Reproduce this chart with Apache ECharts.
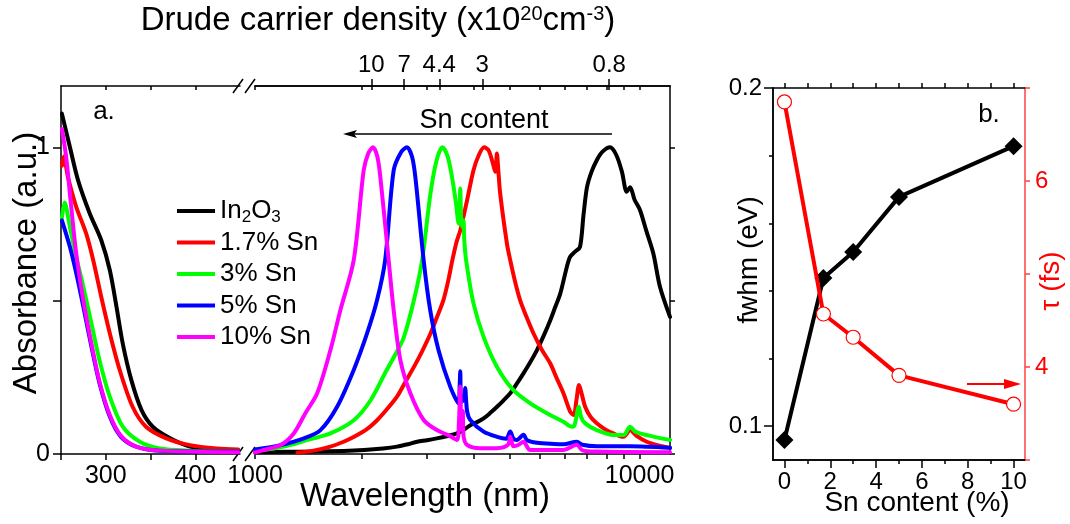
<!DOCTYPE html>
<html><head><meta charset="utf-8">
<script src="https://cdn.jsdelivr.net/npm/echarts@6/dist/echarts.min.js"></script>
<style>html,body{margin:0;padding:0;background:#fff}#c{width:1070px;height:524px}</style>
</head><body><div id="c"></div>
<script>
// ---------- data ----------
const seriesNames = ['In2O3', '1.7% Sn', '3% Sn', '5% Sn', '10% Sn'];
const seriesColors = ['#000000', '#ff0000', '#00ff00', '#0000ff', '#ff00ff'];

// UV region: [wavelength (nm), absorbance]
const uvIn2O3 = [[251,1.11],[260,1.0],[269,0.893],[282,0.785],[295,0.697],[304.5,0.60],[312,0.48],[319,0.36],[328.7,0.24],[340,0.143],[352.5,0.089],[371.5,0.052],[394,0.024],[424,0.011],[448,0.008]];
const uvSn17 = [[251,0.94],[253,0.97],[258,0.90],[267,0.806],[278,0.72],[286,0.632],[295,0.512],[304.5,0.394],[315.6,0.274],[330,0.154],[345,0.089],[367,0.052],[394,0.029],[424,0.018],[448,0.015]];
const uvSn3 = [[251,0.77],[254,0.82],[260,0.74],[267,0.643],[275,0.545],[284,0.426],[293,0.306],[304.5,0.187],[319,0.089],[338,0.040],[360,0.018],[394,0.011],[448,0.008]];
const uvSn5 = [[251,0.762],[260,0.675],[267,0.59],[275,0.48],[284,0.35],[293,0.231],[304.5,0.122],[317,0.056],[334,0.024],[360,0.011],[448,0.008]];
const uvSn10 = [[251,1.06],[255.8,0.968],[261.4,0.806],[267,0.654],[275,0.50],[284,0.36],[293,0.236],[304.5,0.127],[317,0.059],[334,0.024],[360,0.011],[448,0.006]];

// IR region: [wavelength (nm), absorbance]
const irIn2O3 = [[1000,0.006],[1200,0.007],[1420,0.008],[1700,0.01],[1920,0.013],[2150,0.018],[2340,0.024],[2500,0.032],[2640,0.04],[2800,0.045],[2970,0.051],[3150,0.058],[3350,0.067],[3500,0.08],[3630,0.094],[3780,0.104],[3930,0.116],[4100,0.135],[4260,0.154],[4430,0.175],[4610,0.198],[4800,0.23],[4990,0.263],[5200,0.30],[5410,0.339],[5630,0.385],[5860,0.436],[6040,0.48],[6220,0.523],[6470,0.61],[6600,0.643],[6800,0.66],[7000,0.675],[7150,0.78],[7300,0.87],[7500,0.92],[7740,0.958],[8000,0.985],[8380,1.0],[8700,0.975],[9000,0.92],[9260,0.855],[9450,0.87],[9700,0.83],[10030,0.795],[10400,0.73],[10860,0.654],[11300,0.545],[12000,0.447]];
const irSn17 = [[1290,0.004],[1420,0.011],[1570,0.024],[1700,0.04],[1810,0.056],[1950,0.08],[2080,0.111],[2200,0.145],[2340,0.187],[2460,0.235],[2590,0.284],[2720,0.335],[2860,0.393],[2970,0.445],[3090,0.502],[3180,0.565],[3260,0.632],[3340,0.69],[3420,0.73],[3560,0.827],[3700,0.925],[3820,0.975],[3945,1.0],[4050,0.99],[4150,0.95],[4215,0.92],[4257,0.98],[4290,0.93],[4340,0.85],[4520,0.686],[4610,0.632],[4750,0.56],[4890,0.502],[5090,0.445],[5300,0.393],[5570,0.34],[5860,0.295],[6100,0.245],[6340,0.198],[6600,0.138],[6740,0.127],[6860,0.18],[6960,0.225],[7060,0.2],[7220,0.154],[7450,0.122],[7740,0.1],[8100,0.082],[8550,0.067],[9090,0.056],[9450,0.078],[9800,0.06],[10440,0.04],[11200,0.028],[12000,0.02]];
const irSn3 = [[1000,0.012],[1120,0.018],[1240,0.03],[1370,0.046],[1570,0.067],[1810,0.111],[2000,0.176],[2200,0.274],[2330,0.33],[2440,0.382],[2590,0.502],[2720,0.632],[2860,0.85],[2970,0.96],[3074,1.0],[3170,0.97],[3253,0.903],[3330,0.82],[3385,0.751],[3405,0.80],[3418,0.866],[3435,0.77],[3460,0.74],[3485,0.762],[3500,0.70],[3540,0.632],[3700,0.491],[3930,0.382],[4260,0.284],[4700,0.208],[5200,0.165],[5740,0.133],[6340,0.105],[6670,0.089],[6780,0.095],[6950,0.154],[7050,0.12],[7220,0.1],[7740,0.078],[8550,0.062],[9090,0.062],[9450,0.089],[9700,0.075],[10030,0.067],[11000,0.055],[12000,0.046]];
const irSn5 = [[1000,0.015],[1165,0.029],[1340,0.051],[1480,0.078],[1635,0.154],[1806,0.274],[1956,0.393],[2077,0.502],[2180,0.632],[2294,0.925],[2400,0.985],[2484,1.0],[2560,0.97],[2612,0.903],[2745,0.632],[2855,0.469],[3000,0.339],[3220,0.219],[3385,0.165],[3405,0.22],[3418,0.27],[3440,0.17],[3500,0.18],[3520,0.215],[3560,0.14],[3630,0.111],[3930,0.073],[4260,0.056],[4500,0.05],[4610,0.073],[4700,0.05],[4800,0.046],[4990,0.063],[5100,0.045],[5410,0.037],[6000,0.033],[6340,0.032],[6870,0.04],[7100,0.03],[7740,0.025],[9450,0.025],[12000,0.02]];
const irSn10 = [[1000,0.005],[1054,0.013],[1165,0.029],[1261,0.067],[1352,0.133],[1451,0.198],[1571,0.339],[1667,0.469],[1806,0.632],[1917,0.925],[1970,0.98],[2027,1.0],[2080,0.97],[2118,0.903],[2226,0.632],[2294,0.469],[2388,0.306],[2535,0.198],[2745,0.111],[2972,0.078],[3200,0.06],[3350,0.046],[3390,0.1],[3418,0.219],[3440,0.08],[3470,0.14],[3485,0.06],[3560,0.03],[3854,0.019],[4257,0.019],[4550,0.03],[4610,0.056],[4700,0.025],[4850,0.03],[4990,0.04],[5197,0.013],[6337,0.013],[6870,0.03],[7100,0.012],[7742,0.008],[12000,0.006]];

// Panel b
const snContent = [0, 1.7, 3, 5, 10];
const fwhmValues = [0.0959, 0.1438, 0.1515, 0.1678, 0.1828];
const tauValues = [6.85, 4.57, 4.32, 3.91, 3.60];

// tick labels / tick positions
const uvTickMarks = [250, 300, 350, 400];
const uvTickLabels = [300, 400];
const uvTopTicks = [300, 350, 400];
const absTickMarks = [0, 0.5, 1];
const absTickLabels = [0, 1];
const irTickMarks = [1000, 1900, 2800, 3700, 4600, 5500, 6400, 7300, 8200, 9100, 10000];
const irTickLabels = [1000, 10000];
const densityLabels = ['10', '7', '4.4', '3', '0.8'];
const densityWavelengths = [2007, 2444, 3014, 3899, 8339];
const snMajorTicks = [0, 2, 4, 6, 8, 10];
const snMinorTicks = [1, 3, 5, 7, 9];
const snTopTicks = [0, 1, 2, 3, 4, 5, 6, 7, 8, 9, 10];
const fwhmMajorTicks = [0.1, 0.2];
const fwhmMinorTicks = [0.12, 0.14, 0.16, 0.18];
const tauTickMarks = [3, 4, 5, 6, 7];
const tauTickLabels = [4, 6];

// ---------- chart ----------
const FONT = 'Liberation Sans, Arial, sans-serif';
const uvData = [uvIn2O3, uvSn17, uvSn3, uvSn5, uvSn10];
const irData = [irIn2O3, irSn17, irSn3, irSn5, irSn10];

function ax(o) {
  const base = {
    splitLine: { show: false },
    axisLine: { show: true, onZero: false, lineStyle: { color: '#000', width: 1.5 } },
    axisTick: { show: true, lineStyle: { color: '#000', width: 1.5 } },
    axisLabel: { color: '#000', fontSize: 25, fontFamily: FONT },
  };
  const r = Object.assign({}, base, o);
  r.axisLine = Object.assign({}, base.axisLine, o.axisLine || {});
  r.axisTick = Object.assign({}, base.axisTick, o.axisTick || {});
  r.axisLabel = Object.assign({}, base.axisLabel, o.axisLabel || {});
  return r;
}

const xAxis = [
  ax({ gridIndex: 0, type: 'value', position: 'bottom', min: 250, max: 450,
       axisTick: { customValues: uvTickMarks, length: 6 },
       axisLabel: { customValues: uvTickLabels, margin: 10 } }),
  ax({ gridIndex: 0, type: 'value', position: 'top', min: 250, max: 450,
       axisTick: { customValues: uvTopTicks, inside: true, length: 4 },
       axisLabel: { show: false } }),
  ax({ gridIndex: 1, type: 'log', logBase: 10, position: 'bottom', min: 1000, max: 12000,
       axisTick: { customValues: irTickMarks, length: 5 },
       axisLabel: { customValues: irTickLabels, margin: 10, formatter: v => String(Math.round(v)) } }),
  ax({ gridIndex: 1, type: 'log', logBase: 10, position: 'top', min: 1000, max: 12000,
       axisTick: { customValues: densityWavelengths, length: 7 },
       axisLabel: { customValues: densityWavelengths, margin: 9, fontSize: 24,
         formatter: v => {
           let best = 0;
           densityWavelengths.forEach((w, i) => { if (Math.abs(w - v) < Math.abs(densityWavelengths[best] - v)) best = i; });
           return densityLabels[best];
         } } }),
  ax({ gridIndex: 1, type: 'log', logBase: 10, position: 'top', min: 1000, max: 12000,
       axisTick: { customValues: densityWavelengths.concat(irTickMarks), inside: true, length: 4 },
       axisLabel: { show: false } }),
  ax({ gridIndex: 2, type: 'value', position: 'bottom', min: -0.5, max: 10.5,
       axisTick: { customValues: snMajorTicks, length: 8 },
       axisLabel: { customValues: snMajorTicks, margin: 10, fontSize: 24 } }),
  ax({ gridIndex: 2, type: 'value', position: 'bottom', min: -0.5, max: 10.5,
       axisTick: { customValues: snMinorTicks, length: 4 },
       axisLabel: { show: false } }),
  ax({ gridIndex: 2, type: 'value', position: 'top', min: -0.5, max: 10.5,
       axisTick: { customValues: snTopTicks, length: 5 },
       axisLabel: { show: false } }),
];

const yAxis = [
  ax({ gridIndex: 0, type: 'value', position: 'left', min: 0, max: 1.2,
       axisTick: { customValues: absTickMarks, length: 8 },
       axisLabel: { customValues: absTickLabels, margin: 11 } }),
  ax({ gridIndex: 1, type: 'value', position: 'right', min: 0, max: 1.2,
       axisTick: { customValues: absTickMarks, length: 5 },
       axisLabel: { show: false } }),
  ax({ gridIndex: 2, type: 'value', position: 'left', min: 0.09, max: 0.2,
       axisTick: { customValues: fwhmMajorTicks, length: 9 },
       axisLabel: { customValues: fwhmMajorTicks, margin: 11, fontSize: 24, formatter: v => v.toFixed(1) } }),
  ax({ gridIndex: 2, type: 'value', position: 'left', min: 0.09, max: 0.2,
       axisTick: { customValues: fwhmMinorTicks, length: 4 },
       axisLabel: { show: false } }),
  ax({ gridIndex: 2, type: 'value', position: 'right', min: 3, max: 7,
       axisLine: { lineStyle: { color: '#ff4040', width: 1.5 } },
       axisTick: { customValues: tauTickMarks, length: 5, lineStyle: { color: '#ff4040', width: 1.5 } },
       axisLabel: { customValues: tauTickLabels, margin: 10, fontSize: 24, color: '#ff0000' } }),
];

const series = [];
seriesNames.forEach((n, i) => {
  const common = { type: 'line', name: n, symbol: 'none', showSymbol: false, smooth: 0.3,
    lineStyle: { width: 4, color: seriesColors[i], join: 'round', cap: 'round' }, itemStyle: { color: seriesColors[i] },
    z: 2 + i, animation: false, silent: true };
  series.push(Object.assign({}, common, { xAxisIndex: 0, yAxisIndex: 0, data: uvData[i] }));
  series.push(Object.assign({}, common, { xAxisIndex: 2, yAxisIndex: 1, data: irData[i] }));
});
series.push({ type: 'line', name: 'fwhm', xAxisIndex: 5, yAxisIndex: 2,
  data: snContent.map((x, i) => [x, fwhmValues[i]]),
  symbol: 'diamond', symbolSize: 18, itemStyle: { color: '#000' },
  lineStyle: { color: '#000', width: 4 }, z: 5, animation: false, silent: true });
series.push({ type: 'line', name: 'tau', xAxisIndex: 5, yAxisIndex: 4,
  data: snContent.map((x, i) => [x, tauValues[i]]),
  symbol: 'circle', symbolSize: 14, itemStyle: { color: '#fff', borderColor: '#ff0000', borderWidth: 1.2 },
  lineStyle: { color: '#ff0000', width: 4 }, z: 6, animation: false, silent: true });

const txt = (x, y, text, size, extra) => ({
  type: 'text', x: x, y: y, silent: true,
  style: Object.assign({ text: text, fontSize: size, fontFamily: FONT, fill: '#000', align: 'center', verticalAlign: 'middle' }, extra || {})
});

const graphic = [
  txt(378, 21, 'Drude carrier density (x10{sup|20}cm{sup|-3})', 33,
      { rich: { sup: { fontSize: 20, fontFamily: FONT, verticalAlign: 'top', fill: '#000' } } }),
  txt(425, 497, 'Wavelength (nm)', 33),
  Object.assign(txt(0, 0, 'Absorbance (a.u.)', 33), { x: 27, y: 263, rotation: Math.PI / 2 }),
  txt(104, 112, 'a.', 26),
  txt(484, 121, 'Sn content', 27),
  { type: 'line', silent: true, shape: { x1: 612, y1: 134, x2: 352, y2: 134 }, style: { stroke: '#000', lineWidth: 1.5 } },
  { type: 'polygon', silent: true, shape: { points: [[343, 134], [357, 130], [354, 134], [357, 138]] }, style: { fill: '#000' } },
  { type: 'line', silent: true, shape: { x1: 233, y1: 461, x2: 243, y2: 447 }, style: { stroke: '#000', lineWidth: 1.5 } },
  { type: 'line', silent: true, shape: { x1: 245, y1: 461, x2: 255, y2: 447 }, style: { stroke: '#000', lineWidth: 1.5 } },
  { type: 'line', silent: true, shape: { x1: 233, y1: 93, x2: 243, y2: 79 }, style: { stroke: '#000', lineWidth: 1.5 } },
  { type: 'line', silent: true, shape: { x1: 245, y1: 93, x2: 255, y2: 79 }, style: { stroke: '#000', lineWidth: 1.5 } },
  txt(989, 115, 'b.', 26),
  txt(917, 503, 'Sn content (%)', 28),
  Object.assign(txt(0, 0, 'fwhm (eV)', 28), { x: 749, y: 260, rotation: Math.PI / 2 }),
  Object.assign(txt(0, 0, 'τ (fs)', 28, { fill: '#ff0000' }), { x: 1051, y: 281, rotation: Math.PI / 2 }),
  { type: 'line', silent: true, shape: { x1: 967, y1: 384, x2: 1008, y2: 384 }, style: { stroke: '#ff0000', lineWidth: 2 } },
  { type: 'polygon', silent: true, shape: { points: [[1021, 384], [1004, 379], [1004, 389]] }, style: { fill: '#ff0000' } },
];

const chart = echarts.init(document.getElementById('c'), null, { renderer: 'canvas' });
chart.setOption({
  animation: false,
  backgroundColor: '#fff',
  grid: [
    { left: 61, top: 86, width: 179, height: 368, outerBoundsMode: 'none', containLabel: false },
    { left: 255, top: 86, width: 415, height: 368, outerBoundsMode: 'none', containLabel: false },
    { left: 773, top: 88, width: 252, height: 372, outerBoundsMode: 'none', containLabel: false },
  ],
  legend: {
    data: seriesNames, orient: 'vertical', left: 172, top: 191,
    icon: 'rect', itemWidth: 38, itemHeight: 4, itemGap: 1.5, itemTextGap: 5,
    selectedMode: false,
    formatter: n => n === 'In2O3' ? 'In{sub|2}O{sub|3}' : n,
    textStyle: { fontSize: 26, fontFamily: FONT, color: '#000', lineHeight: 30,
      rich: { sub: { fontSize: 17, fontFamily: FONT, verticalAlign: 'bottom', color: '#000' } } },
  },
  xAxis: xAxis,
  yAxis: yAxis,
  series: series,
  graphic: graphic,
});
</script>
</body></html>
